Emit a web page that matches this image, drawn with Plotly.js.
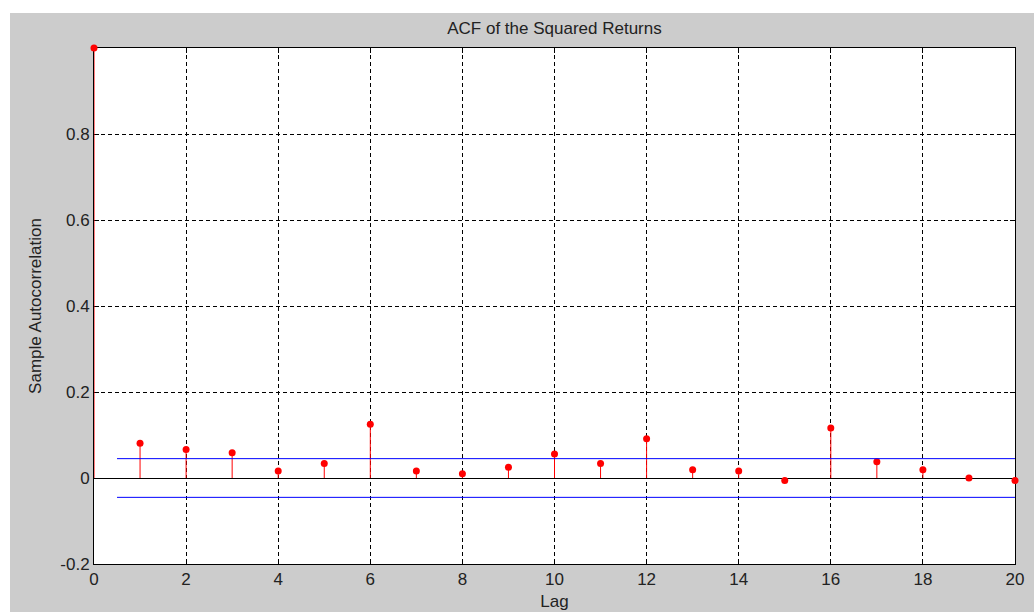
<!DOCTYPE html>
<html>
<head>
<meta charset="utf-8">
<script src="https://cdn.plot.ly/plotly-3.0.1.min.js"></script>
<style>
html,body{margin:0;padding:0;background:#ffffff;}
#chart{position:absolute;left:10px;top:13px;width:1024px;height:599px;}
</style>
</head>
<body>
<div id="chart"></div>
<script>
const lags = [0,1,2,3,4,5,6,7,8,9,10,11,12,13,14,15,16,17,18,19,20];
const acf = [1.0,0.081,0.066,0.059,0.016,0.034,0.125,0.016,0.010,0.025,0.056,0.034,0.091,0.019,0.016,-0.006,0.116,0.038,0.019,0.0,-0.006];
const bounds = [0.045,-0.045];
const boundRange = [0.5,20];
const xTicks = [0,2,4,6,8,10,12,14,16,18,20];
const yTicks = [-0.2,0,0.2,0.4,0.6,0.8];
const yTickText = ['-0.2','0','0.2','0.4','0.6','0.8'];

const stemX = [], stemY = [];
lags.forEach((l,i)=>{ stemX.push(l,l,null); stemY.push(0,acf[i],null); });

const traces = [
  {x: stemX, y: stemY, type:'scatter', mode:'lines', line:{color:'#ff0000', width:1}, hoverinfo:'skip', cliponaxis:false, showlegend:false},
  {x: lags, y: acf, type:'scatter', mode:'markers', marker:{color:'#ff0000', size:7}, cliponaxis:false, showlegend:false},
  {x: boundRange, y: [bounds[0],bounds[0]], type:'scatter', mode:'lines', line:{color:'#0000ff', width:1}, showlegend:false},
  {x: boundRange, y: [bounds[1],bounds[1]], type:'scatter', mode:'lines', line:{color:'#0000ff', width:1}, showlegend:false}
];

const fnt = {family:'"Liberation Sans", Arial, sans-serif', size:17, color:'#222222'};
const layout = {
  width:1024, height:599,
  paper_bgcolor:'#cccccc', plot_bgcolor:'#ffffff',
  margin:{l:84, r:19, t:35, b:48},
  font: fnt,
  showlegend:false,
  title:{text:'ACF of the Squared Returns', font:fnt, x:0.5, xref:'paper', xanchor:'center', y:0.975, yref:'container', yanchor:'middle'},
  xaxis:{
    range:[0,20], tickvals:xTicks, ticktext:xTicks.map(String),
    showgrid:true, gridcolor:'#000000', gridwidth:1, griddash:'4px,3px',
    zeroline:false, showline:true, linecolor:'#000000', linewidth:1, mirror:'ticks',
    ticks:'inside', ticklen:5, tickcolor:'#000000',
    tickfont:fnt, layer:'below traces',
    title:{text:'Lag', font:fnt, standoff:6}
  },
  yaxis:{
    range:[-0.2,1.0], tickvals:yTicks, ticktext:yTickText,
    showgrid:true, gridcolor:'#000000', gridwidth:1, griddash:'4px,3px',
    zeroline:true, zerolinecolor:'#000000', zerolinewidth:1,
    showline:true, linecolor:'#000000', linewidth:1, mirror:'ticks',
    ticks:'inside', ticklen:5, tickcolor:'#000000',
    tickfont:fnt, layer:'below traces',
    title:{text:'Sample Autocorrelation', font:fnt, standoff:14}
  }
};
Plotly.newPlot('chart', traces, layout, {displayModeBar:false, staticPlot:true});
</script>
</body>
</html>
